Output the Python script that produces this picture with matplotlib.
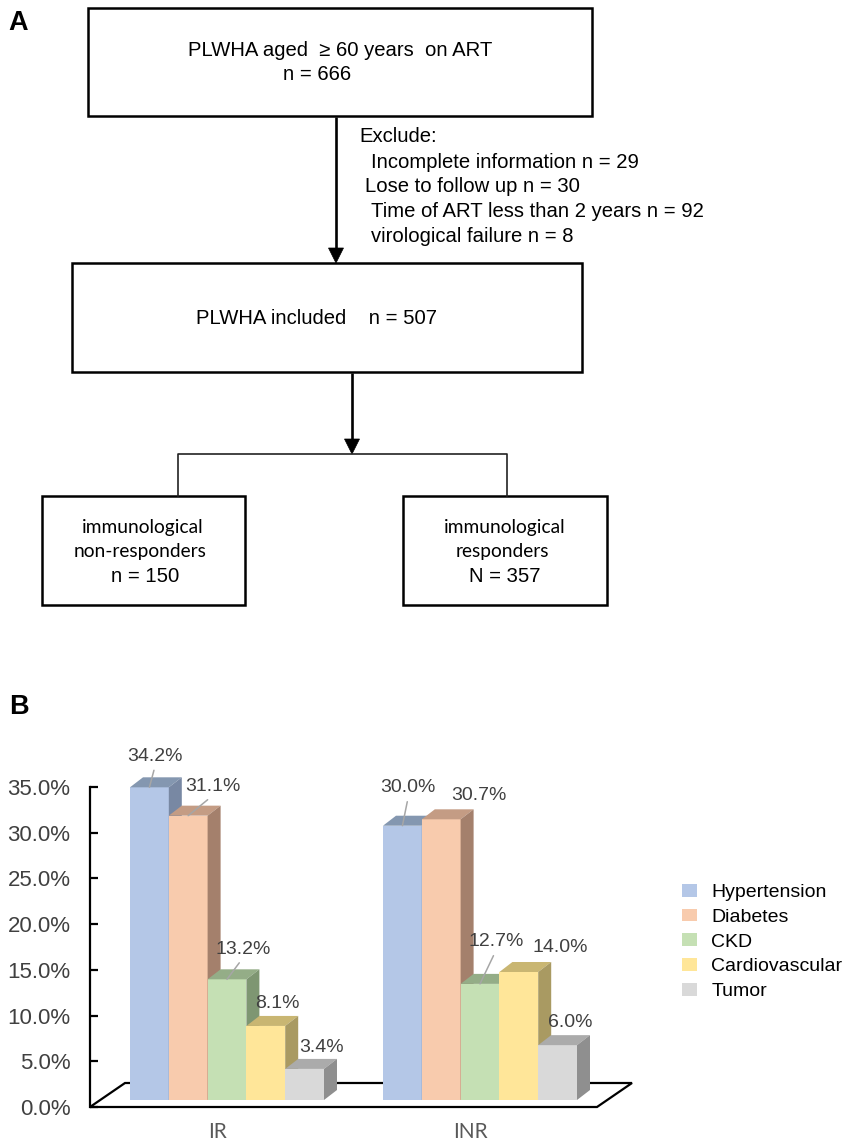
import numpy as np
import matplotlib.pyplot as plt
from matplotlib.patches import Polygon, Rectangle
from matplotlib.transforms import ScaledTranslation

plt.rcParams['font.family'] = ['Liberation Sans', 'DejaVu Sans']

# ---- data ----
groups = ['IR', 'INR']
diseases = ['Hypertension', 'Diabetes', 'CKD', 'Cardiovascular', 'Tumor']
ir_rates = [34.2, 31.1, 13.2, 8.1, 3.4]
inr_rates = [30.0, 30.7, 12.7, 14.0, 6.0]

n_total = 666
excluded = [('Incomplete information', 29), ('Lose to follow up', 30),
            ('Time of ART less than 2 years', 92), ('virological failure', 8)]
n_included = 507
n_inr = 150
n_ir = 357

# colours of the 3d-ish bars: front / top / side
front_colors = ['#B4C7E7', '#F8CBAD', '#C5E0B4', '#FFE699', '#D9D9D9']
top_colors = ['#8497B0', '#C49C84', '#94AD87', '#C9B672', '#ABABAB']
side_colors = ['#7888A3', '#A4806C', '#7E9672', '#A99A62', '#8F8F8F']

# label offsets in pixels (right, up) from the bar top, and which get a leader line
label_offsets = [[(6, 31), (25, 29), (16, 30), (12, 22), (17, 21)],
                 [(6, 38), (38, 24), (16, 42), (41, 24), (13, 23)]]
leaders = [[True, True, True, False, False],
           [True, False, True, False, False]]

W, H = 851, 1147
fig = plt.figure(figsize=(W / 100, H / 100), dpi=100)

# ---------------- panel A: flow chart (pixel coords) ----------------
fa = fig.add_axes([0, 0, 1, 1])
fa.set_xlim(0, W)
fa.set_ylim(H, 0)
fa.axis('off')


def box(x0, y0, x1, y1, lw=1.8):
    fa.add_patch(Rectangle((x0, y0), x1 - x0, y1 - y0, fill=False,
                           ec='black', lw=lw, joinstyle='miter'))


def arrow(x, y0, y1, head=15):
    fa.plot([x, x], [y0, y1 - head + 2], color='black', lw=1.9,
            solid_capstyle='butt')
    fa.add_patch(Polygon([[x - head / 2, y1 - head], [x + head / 2, y1 - head], [x, y1]],
                         closed=True, fc='black', ec='black', lw=0.5))


fs = 14.6
box(88, 8, 592, 116)
fa.text(340, 51, 'PLWHA aged  \u2265 60 years  on ART', ha='center', va='center', fontsize=fs)
fa.text(317, 75, f'n = {n_total}', ha='center', va='center', fontsize=fs)

arrow(336, 117, 263)
fa.text(359, 137, 'Exclude:', ha='left', va='center', fontsize=fs)
ex_x = [371, 365, 371, 371]
for k, (reason, n) in enumerate(excluded):
    fa.text(ex_x[k], 162 + k * 24.7, f'{reason} n = {n}', ha='left', va='center', fontsize=fs)

box(72, 263, 582, 372)
fa.text(316, 318, f'PLWHA included    n = {n_included}', ha='center', va='center', fontsize=fs)

arrow(352, 373, 454)
fa.plot([178, 178, 507, 507], [496, 454, 454, 496], color='#222222', lw=1.2)

box(42, 496, 245, 605)
box(403, 496, 607, 605)
sub_font = dict(family=['Lato', 'DejaVu Sans'], fontsize=13.8)
fa.text(143, 527, 'immunological', ha='center', va='center', **sub_font)
fa.text(140, 552, 'non-responders', ha='center', va='center', **sub_font)
fa.text(145, 576, f'n = {n_inr}', ha='center', va='center', fontsize=fs)
fa.text(505, 527, 'immunological', ha='center', va='center', **sub_font)
fa.text(502, 551, 'responders', ha='center', va='center', **sub_font)
fa.text(505, 576, f'N = {n_ir}', ha='center', va='center', fontsize=fs)

fa.text(8, 23, 'A', ha='left', va='center', fontsize=19.5, fontweight='bold')
fa.text(9, 707, 'B', ha='left', va='center', fontsize=19.5, fontweight='bold')

# ---------------- panel B: pseudo-3d bars ----------------
ypx = 320 / 35          # pixels per percent
gpx = 253               # pixels between the two groups
w = 38.8 / gpx          # bar width
base = 7 / ypx          # bars float a little above the front floor edge
ddx, ddy = 13 / gpx, 10 / ypx       # bar depth
x_left = -137 / gpx
x_front_right = 370 / gpx
fdx, fdy = 35 / gpx, 24 / ypx       # floor depth

ax = fig.add_axes([90 / W, (H - 1107) / H, 540 / W, 320 / H])
ax.set_facecolor('none')
ax.set_ylim(0, 35)
ax.set_xlim(x_left, x_left + 540 / gpx)

floor = Polygon([[x_left, 0], [x_front_right, 0], [x_front_right + fdx, fdy],
                 [x_left + fdx, fdy]], closed=True, fc='white', ec='black',
                lw=1.6, zorder=1, clip_on=False)
ax.add_patch(floor)

rates = np.array([ir_rates, inr_rates])
xs = np.arange(len(groups))
for i, name in enumerate(diseases):
    bars = ax.bar(xs + (i - 2) * w, rates[:, i], w, bottom=base,
                  color=front_colors[i], label=name, lw=0)
    for g, b in enumerate(bars):
        z = 3 + g * 5 + i
        b.set_zorder(z)
        x0, x1 = b.get_x(), b.get_x() + b.get_width()
        y0, y1 = b.get_y(), b.get_y() + b.get_height()
        ax.add_patch(Polygon([[x0, y1], [x1, y1], [x1 + ddx, y1 + ddy], [x0 + ddx, y1 + ddy]],
                             closed=True, fc=top_colors[i], lw=0, zorder=z, clip_on=False))
        ax.add_patch(Polygon([[x1, y0], [x1, y1], [x1 + ddx, y1 + ddy], [x1 + ddx, y0 + ddy]],
                             closed=True, fc=side_colors[i], lw=0, zorder=z, clip_on=False))
        dx, dy = label_offsets[g][i]
        props = None
        if leaders[g][i]:
            props = dict(arrowstyle='-', color='#A6A6A6', lw=1.1,
                         shrinkA=2, shrinkB=0, relpos=(0.5, 0.0))
        ax.annotate(f'{rates[g, i]:.1f}%', xy=((x0 + x1) / 2, y1),
                    xytext=(dx, dy), textcoords='offset pixels',
                    ha='center', va='center', fontsize=14, color='#404040',
                    arrowprops=props, zorder=30, annotation_clip=False)

for s in ['top', 'right', 'bottom']:
    ax.spines[s].set_visible(False)
ax.spines['left'].set_linewidth(1.6)
ax.spines['left'].set_zorder(2)

yt = np.arange(0, 36, 5)
ax.set_yticks(yt, [f'{v:.1f}%' for v in yt])
ax.tick_params(axis='y', direction='in', length=5.8, width=1.6, pad=14,
               labelsize=16, labelcolor='#404040')
ax.set_xticks(xs, groups)
ax.tick_params(axis='x', length=0, pad=11, labelsize=15, labelcolor='#595959')
shift = ScaledTranslation(-0.10, 0, fig.dpi_scale_trans)
for lab in ax.get_xticklabels():
    lab.set_family(['Lato', 'DejaVu Sans'])
    lab.set_transform(lab.get_transform() + shift)

ax.legend(loc='upper left', bbox_to_anchor=(682 / W, 1 - 884 / H),
          bbox_transform=fig.transFigure, frameon=False, fontsize=14,
          handlelength=0.78, handleheight=0.62, handletextpad=0.72,
          labelspacing=0.39, borderpad=0, borderaxespad=0)

fig.savefig('out.png', dpi=100)
